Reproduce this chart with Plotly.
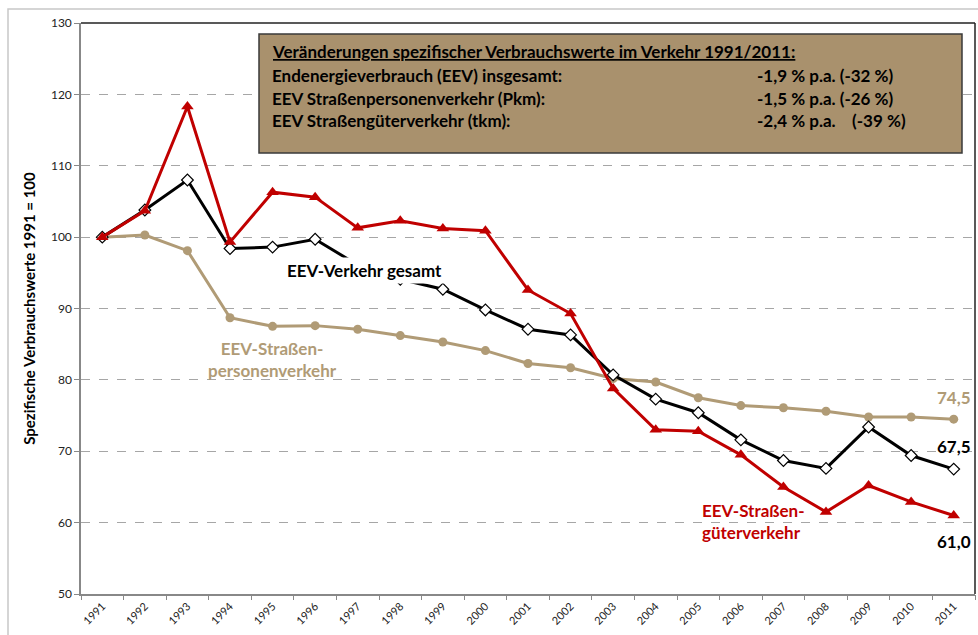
import plotly.graph_objects as go

years = list(range(1991, 2012))
year_labels = [str(y) for y in years]

gesamt = [100.0, 103.8, 108.0, 98.4, 98.6, 99.7, 96.1, 94.1, 92.7, 89.8, 87.1, 86.3,
          80.7, 77.3, 75.4, 71.6, 68.7, 67.6, 73.4, 69.4, 67.5]
personen = [100.0, 100.3, 98.1, 88.7, 87.5, 87.6, 87.1, 86.2, 85.3, 84.1, 82.3, 81.7,
            80.2, 79.7, 77.5, 76.4, 76.1, 75.6, 74.8, 74.8, 74.5]
gueter = [100.0, 103.7, 118.3, 99.3, 106.3, 105.6, 101.3, 102.3, 101.2, 100.9, 92.6, 89.3,
          78.8, 73.0, 72.8, 69.5, 65.0, 61.5, 65.2, 62.9, 61.0]

box_title = "Veränderungen spezifischer Verbrauchswerte im Verkehr 1991/2011:"
box_rows = ["Endenergieverbrauch (EEV) insgesamt:",
            "EEV Straßenpersonenverkehr (Pkm):",
            "EEV Straßengüterverkehr (tkm):"]
box_values = ["-1,9 % p.a. (-32 %)",
              "-1,5 % p.a. (-26 %)",
              "-2,4 % p.a.\u00a0\u00a0\u00a0\u00a0(-39 %)"]

RED = "#C00000"
TAN = "#B09B76"
BOXFILL = "#A9916D"
FONT = "Lato, 'Open Sans', sans-serif"

fig = go.Figure()

fig.add_trace(go.Scatter(x=years, y=personen, mode="lines+markers",
                         line=dict(color=TAN, width=3),
                         marker=dict(symbol="circle", size=9, color=TAN),
                         name="EEV-Straßenpersonenverkehr"))
fig.add_trace(go.Scatter(x=years, y=gesamt, mode="lines+markers",
                         line=dict(color="black", width=3),
                         marker=dict(symbol="diamond", size=9, color="white",
                                     line=dict(color="black", width=1.2)),
                         name="EEV-Verkehr gesamt"))
fig.add_trace(go.Scatter(x=years, y=gueter, mode="lines+markers",
                         line=dict(color=RED, width=3),
                         marker=dict(symbol="triangle-up", size=11, color=RED),
                         name="EEV-Straßengüterverkehr"))
# invisible trace to activate the boundary-tick axis
fig.add_trace(go.Scatter(x=[years[0]], y=[None], xaxis="x2", yaxis="y", showlegend=False,
                         hoverinfo="skip", mode="markers"))

L, R, T, B = 81, 3, 23, 41
W, H = 978, 635
pw, ph = W - L - R, H - T - B

def px(x):
    return (x - L) / pw

def py(y):
    return (H - B - y) / ph

shapes = [
    dict(type="rect", xref="paper", yref="paper", x0=px(8), x1=px(990), y0=py(9), y1=py(650),
         line=dict(color="#C8C8C8", width=1.5), layer="below"),
    dict(type="line", xref="paper", yref="paper", x0=0, x1=1, y0=1, y1=1,
         line=dict(color="#222222", width=1.5)),
    dict(type="line", xref="paper", yref="paper", x0=1, x1=1, y0=0, y1=1,
         line=dict(color="#222222", width=1.5)),
    dict(type="rect", xref="paper", yref="paper", x0=px(259), x1=px(962), y0=py(34), y1=py(153),
         fillcolor=BOXFILL, line=dict(color="#3A3A3A", width=1.5), layer="above"),
]

BOXSIZE = 17
annotations = []
annotations.append(dict(xref="paper", yref="paper", x=px(270), y=py(52), xanchor="left", yanchor="middle",
                        text="<b><u>" + box_title + "</u></b>", showarrow=False,
                        font=dict(family=FONT, size=BOXSIZE, color="#000000")))
for i, (r, v) in enumerate(zip(box_rows, box_values)):
    yy = py(75 + i * 23)
    annotations.append(dict(xref="paper", yref="paper", x=px(270), y=yy, xanchor="left", yanchor="middle",
                            text="<b>" + r + "</b>", showarrow=False,
                            font=dict(family=FONT, size=BOXSIZE, color="#000000")))
    annotations.append(dict(xref="paper", yref="paper", x=px(755), y=yy, xanchor="left", yanchor="middle",
                            text="<b>" + v + "</b>", showarrow=False,
                            font=dict(family=FONT, size=BOXSIZE, color="#000000")))

annotations += [
    dict(x=1997.16, y=95.3, text="<b>EEV-Verkehr gesamt</b>", showarrow=False, bgcolor="white",
         font=dict(family=FONT, size=17, color="black"), borderpad=2),
    dict(x=1995.0, y=82.9, text="<b>EEV-Straßen-<br>personenverkehr</b>", showarrow=False,
         font=dict(family=FONT, size=17, color=TAN), align="center"),
    dict(x=2005.05, y=60.1, text="<b>EEV-Straßen-<br>güterverkehr</b>", showarrow=False,
         xanchor="left", align="left", font=dict(family=FONT, size=17, color=RED)),
    dict(x=2011, y=77.5, text="<b>74,5</b>", showarrow=False,
         font=dict(family=FONT, size=17, color=TAN)),
    dict(x=2011, y=70.6, text="<b>67,5</b>", showarrow=False,
         font=dict(family=FONT, size=17, color="black")),
    dict(x=2011, y=57.4, text="<b>61,0</b>", showarrow=False,
         font=dict(family=FONT, size=17, color="black")),
]

fig.update_layout(
    width=W, height=H,
    margin=dict(l=L, r=R, t=T, b=B, autoexpand=False),
    paper_bgcolor="white", plot_bgcolor="white",
    showlegend=False,
    font=dict(family=FONT, color="#333333"),
    shapes=shapes, annotations=annotations,
    xaxis=dict(range=[1990.5, 2011.5], tickmode="array", tickvals=years, ticktext=year_labels,
               tickangle=-45, ticks="", showgrid=False, zeroline=False, automargin=False,
               showline=True, linecolor="#888888", linewidth=1.5,
               tickfont=dict(family=FONT, size=11, color="#222222")),
    xaxis2=dict(range=[1990.5, 2011.5], overlaying="x", side="bottom", anchor="y",
                tickmode="array", tickvals=[y + 0.5 for y in [1990] + years],
                ticks="outside", ticklen=5, tickcolor="#888888", showticklabels=False,
                showgrid=False, zeroline=False, showline=False, automargin=False),
    yaxis=dict(range=[50, 130], dtick=10, tick0=50, ticks="outside", ticklen=5, tickcolor="#888888",
               showline=True, linecolor="#888888", linewidth=1.5, zeroline=False, automargin=False,
               showgrid=True, gridcolor="#A6A6A6", griddash="dash", gridwidth=1,
               tickfont=dict(family=FONT, size=12, color="#222222"),
               title=dict(text="<b>Spezifische Verbrauchswerte 1991 = 100</b>", standoff=12,
                          font=dict(family=FONT, size=15, color="black"))),
)

fig.write_html("out.html", config={"displayModeBar": False},
               post_script="document.body.style.margin='0';document.body.style.overflow='hidden';")
